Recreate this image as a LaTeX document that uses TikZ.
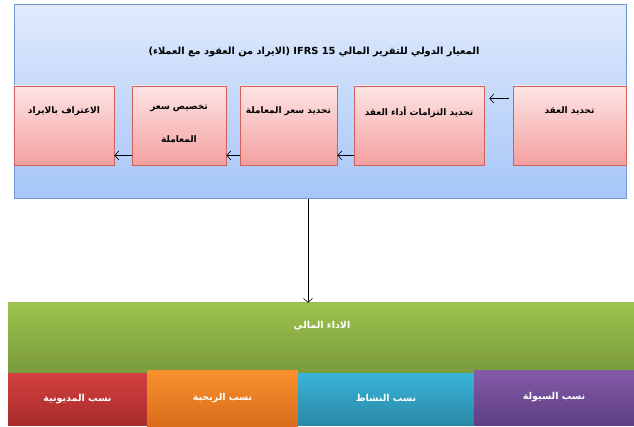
\documentclass[tikz,border=0pt]{standalone}
\usepackage{fontspec}
\usepackage{xcolor}
\usetikzlibrary{arrows.meta}
\TeXXeTstate=1
\newfontfamily\arabicfont[Script=Arabic]{DejaVu Sans}
\definecolor{frameBlue}{HTML}{7397D0}
\definecolor{skyTop}{HTML}{E0EAFC}
\definecolor{skyBot}{HTML}{A6C6F8}
\definecolor{roseLine}{HTML}{D0605C}
\definecolor{roseTop}{HTML}{FDE4E4}
\definecolor{roseBot}{HTML}{F4A0A0}
\definecolor{oliveTop}{HTML}{9DC24C}
\definecolor{oliveBot}{HTML}{7A9A3C}
\definecolor{ratioRedTop}{HTML}{D44040}
\definecolor{ratioRedBot}{HTML}{A82B2B}
\definecolor{ratioOrTop}{HTML}{F9902C}
\definecolor{ratioOrBot}{HTML}{D86C1C}
\definecolor{ratioBlTop}{HTML}{38B4D8}
\definecolor{ratioBlBot}{HTML}{2A88A6}
\definecolor{ratioPuTop}{HTML}{845AA8}
\definecolor{ratioPuBot}{HTML}{5E3F84}

\begin{document}
\begin{tikzpicture}[x=1pt,y=-1pt]
    \tikzset{
        framebox/.style={draw=frameBlue,line width=1pt,top color=skyTop,bottom color=skyBot,inner sep=0pt},
        stepbox/.style={draw=roseLine,line width=0.9pt,top color=roseTop,bottom color=roseBot,inner sep=0pt,minimum height=79},
        steptext/.style={anchor=north,font=\arabicfont\bfseries\fontsize{9}{33}\selectfont,align=center,inner sep=0pt},
        ratiobox/.style={inner sep=0pt,font=\arabicfont\bfseries\fontsize{9.5}{12}\selectfont,text=white},
        arr/.style={-{Straight Barb[length=4pt,width=9pt]},line width=0.6pt}
    };
    \useasboundingbox (0,0) rectangle (634,427);
    % standard frame
    \node[framebox,minimum width=612,minimum height=194] (ifrs) at (320,102) {};
    \node[font=\arabicfont\bfseries\fontsize{9.8}{14}\selectfont] (title) at (314,52)
        {\beginR المعيار الدولي للتقرير المالي \beginL IFRS 15\endL{} (الايراد من العقود مع العملاء)\endR};
    % five steps
    \node[stepbox,minimum width=113] (contract) at (569.5,125.5) {};
    \node[stepbox,minimum width=130] (obligations) at (419,125.5) {};
    \node[stepbox,minimum width=97] (price) at (288.5,125.5) {};
    \node[stepbox,minimum width=94] (allocate) at (179,125.5) {};
    \node[stepbox,minimum width=100] (revenue) at (64,125.5) {};
    \node[steptext] (tcontract) at ([yshift=-21pt]contract.north) {\beginR تحديد العقد\endR};
    \node[steptext] (tobligations) at ([yshift=-21pt]obligations.north) {\beginR تحديد التزامات أداء العقد\endR};
    \node[steptext] (tprice) at ([yshift=-21pt]price.north) {\beginR تحديد سعر المعاملة\endR};
    \node[steptext] (tallocate) at ([yshift=-19pt]allocate.north) {\beginR تخصيص سعر\endR\\\beginR المعاملة\endR};
    \node[steptext] (trevenue) at ([yshift=-21pt]revenue.north) {\beginR الاعتراف بالايراد\endR};
    \draw[arr,shorten <=4pt,shorten >=5pt] ([yshift=-13pt]contract.north west) -- ([yshift=-13pt]obligations.north east);
    \draw[arr] ([yshift=10pt]obligations.south west) -- ([yshift=10pt]price.south east);
    \draw[arr] ([yshift=10pt]price.south west) -- ([yshift=10pt]allocate.south east);
    \draw[arr] ([yshift=10pt]allocate.south west) -- ([yshift=10pt]revenue.south east);
    % financial performance
    \node[inner sep=0pt,top color=oliveTop,bottom color=oliveBot,minimum width=626,minimum height=70] (perf) at (321,338) {};
    \node[font=\arabicfont\bfseries\fontsize{9.5}{14}\selectfont,text=white] (tperf) at (322,326) {\beginR الاداء المالي\endR};
    \node[ratiobox,top color=ratioRedTop,bottom color=ratioRedBot,minimum width=139,minimum height=52] (debt) at (77.5,399) {\beginR نسب المديونية\endR};
    \node[ratiobox,top color=ratioOrTop,bottom color=ratioOrBot,minimum width=151,minimum height=57] (profit) at (222.5,398.5) {\beginR نسب الربحية\endR};
    \node[ratiobox,top color=ratioBlTop,bottom color=ratioBlBot,minimum width=176,minimum height=52] (activity) at (386,399) {\beginR نسب النشاط\endR};
    \node[ratiobox,top color=ratioPuTop,bottom color=ratioPuBot,minimum width=160,minimum height=55] (liquid) at (554,397.5) {\beginR نسب السيولة\endR};
    \draw[arr] ([xshift=-12pt]ifrs.south) -- ([xshift=-13pt]perf.north);
\end{tikzpicture}
\end{document}
